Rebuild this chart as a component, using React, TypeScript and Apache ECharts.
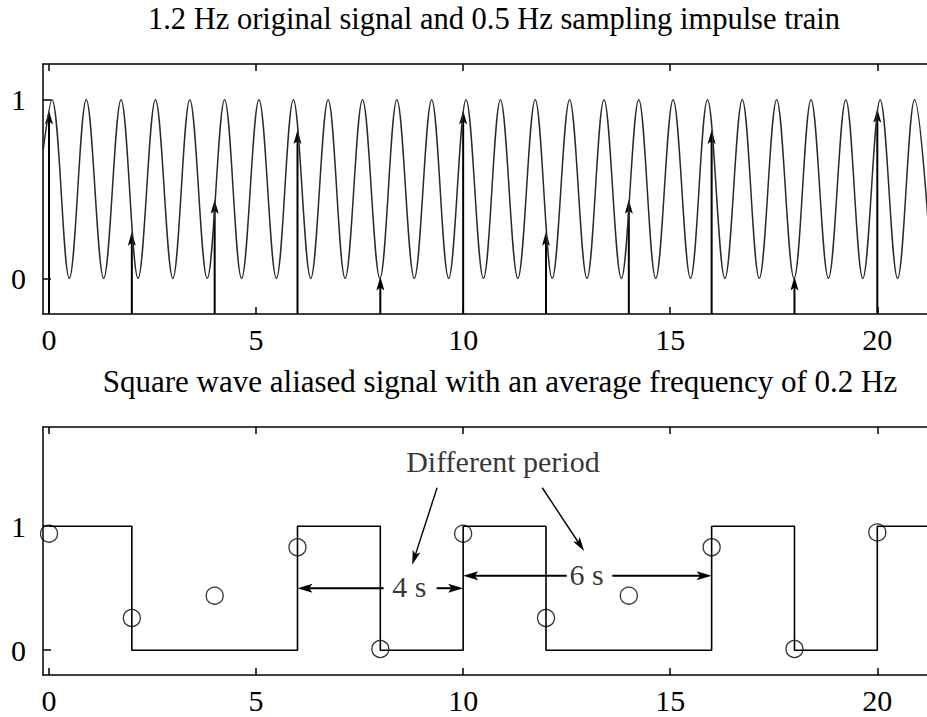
import { useEffect, useRef } from 'react';
import * as echarts from 'echarts';

const FONT = 'Liberation Serif';

// Sampling instants (s) and the sampled signal values
const sampleTimes = [0, 2, 4, 6, 8, 10, 12, 14, 16, 18, 20];
const sampleValues = [0.94, 0.26, 0.44, 0.83, 0.01, 0.94, 0.26, 0.44, 0.83, 0.01, 0.95];

// Held (thresholded) output level after each sample
const heldLevels = [1, 0, 0, 1, 0, 1, 0, 0, 1, 0, 1];
const holdEnd = 21.6;

// 1.2 Hz sinusoid: start point, then successive crests (1) and troughs (0)
const sineTimes = [
  -0.14, 0.07, 0.49, 0.9, 1.32, 1.74, 2.15, 2.57, 2.99, 3.4, 3.82, 4.24, 4.65, 5.07, 5.49, 5.9,
  6.32, 6.74, 7.15, 7.57, 7.99, 8.4, 8.82, 9.24, 9.65, 10.07, 10.49, 10.9, 11.32, 11.74, 12.15,
  12.57, 12.99, 13.4, 13.82, 14.24, 14.65, 15.07, 15.49, 15.9, 16.32, 16.74, 17.15, 17.57, 17.99,
  18.4, 18.82, 19.24, 19.65, 20.07, 20.49, 20.9, 21.32,
];
const sineLevels = [
  0.72, 1, 0, 1, 0, 1, 0, 1, 0, 1, 0, 1, 0, 1, 0, 1, 0, 1, 0, 1, 0, 1, 0, 1, 0, 1, 0, 1, 0, 1, 0,
  1, 0, 1, 0, 1, 0, 1, 0, 1, 0, 1, 0, 1, 0, 1, 0, 1, 0, 1, 0, 1, 0,
];

const xTicks = [0, 5, 10, 15, 20];
const yTicks = [0, 1];

// Annotation arrows in the lower panel: [t0, v0, t1, v1], head at (t1, v1)
const pointerArrows = [
  [9.37, 1.31, 8.77, 0.69],
  [11.91, 1.31, 12.92, 0.8],
];
const spanArrows = [
  [8.08, 0.5, 6, 0.5],
  [9.36, 0.5, 10, 0.5],
  [12.5, 0.6, 10, 0.6],
  [13.6, 0.6, 16, 0.6],
];
const annotationLabels = ['Different period', '4 s', '6 s'];
const annotationTimes = [10.96, 8.7, 12.98];
const annotationValues = [1.52, 0.51, 0.61];

const titles = [
  '1.2 Hz original signal and 0.5 Hz sampling impulse train',
  'Square wave aliased signal with an average frequency of 0.2 Hz',
];

const X_MIN = -0.145;
const X_MAX = 21.2;
const TOP_Y = [-0.2, 1.2];
const BOTTOM_Y = [-0.2, 1.8];

function arrow(
  x1: number, y1: number, x2: number, y2: number,
  len: number, half: number, lineWidth: number,
) {
  const dx = x2 - x1;
  const dy = y2 - y1;
  const d = Math.hypot(dx, dy) || 1;
  const ux = dx / d;
  const uy = dy / d;
  const nx = -uy;
  const ny = ux;
  const bx = x2 - ux * len;
  const by = y2 - uy * len;
  return {
    type: 'group',
    children: [
      {
        type: 'line',
        shape: { x1, y1, x2: x2 - ux * len * 0.6, y2: y2 - uy * len * 0.6 },
        style: { stroke: '#000', lineWidth },
      },
      {
        type: 'polygon',
        shape: {
          points: [
            [x2, y2],
            [bx + nx * half, by + ny * half],
            [x2 - ux * len * 0.78, y2 - uy * len * 0.78],
            [bx - nx * half, by - ny * half],
          ],
        },
        style: { fill: '#000' },
      },
    ],
  };
}

function xAxis(gridIndex: number, position: 'top' | 'bottom') {
  return {
    type: 'value',
    gridIndex,
    position,
    min: X_MIN,
    max: X_MAX,
    axisLine: { show: true, onZero: false, lineStyle: { color: '#000', width: 1.5 } },
    axisTick: {
      show: true, inside: true, length: 7, customValues: xTicks,
      lineStyle: { color: '#000', width: 1.5 },
    },
    axisLabel: {
      show: position === 'bottom', customValues: xTicks, margin: 10,
      color: '#000', fontSize: 30, fontFamily: FONT,
    },
    splitLine: { show: false },
  };
}

function yAxis(gridIndex: number, range: number[]) {
  return {
    type: 'value',
    gridIndex,
    min: range[0],
    max: range[1],
    axisLine: { show: true, onZero: false, lineStyle: { color: '#000', width: 1.5 } },
    axisTick: {
      show: true, inside: true, length: 8, customValues: yTicks,
      lineStyle: { color: '#000', width: 1.5 },
    },
    axisLabel: {
      customValues: yTicks, margin: 17, color: '#000', fontSize: 30, fontFamily: FONT,
    },
    splitLine: { show: false },
  };
}

export default function App() {
  const ref = useRef<HTMLDivElement>(null);

  useEffect(() => {
    if (!ref.current) return;
    const chart = echarts.init(ref.current, null, { renderer: 'svg' });

    const sine = sineTimes.map((t, i) => [t, sineLevels[i]]);
    const samples = sampleTimes.map((t, i) => [t, sampleValues[i]]);
    const held = sampleTimes.map((t, i) => [t, heldLevels[i]]);
    held.push([holdEnd, heldLevels[heldLevels.length - 1]]);

    const option = {
      animation: false,
      backgroundColor: '#fff',
      grid: [
        { left: 43, top: 64, width: 886, height: 250 },
        { left: 43, top: 427, width: 886, height: 248 },
      ],
      xAxis: [xAxis(0, 'bottom'), xAxis(0, 'top'), xAxis(1, 'bottom'), xAxis(1, 'top')],
      yAxis: [yAxis(0, TOP_Y), yAxis(1, BOTTOM_Y)],
      graphic: [
        {
          type: 'text', x: 494, y: 18.5,
          style: {
            text: titles[0], fontSize: 30.5, fontFamily: FONT, fill: '#000',
            align: 'center', verticalAlign: 'middle',
          },
        },
        {
          type: 'text', x: 500, y: 381.5,
          style: {
            text: titles[1], fontSize: 31, fontFamily: FONT, fill: '#000',
            align: 'center', verticalAlign: 'middle',
          },
        },
      ],
      series: [
        {
          name: 'original',
          type: 'line',
          xAxisIndex: 0,
          yAxisIndex: 0,
          data: sine,
          smooth: 0.36,
          showSymbol: false,
          symbol: 'none',
          lineStyle: { color: '#2a2a2a', width: 1.5 },
          silent: true,
        },
        {
          name: 'impulses',
          type: 'custom',
          xAxisIndex: 0,
          yAxisIndex: 0,
          data: samples,
          encode: { x: 0, y: 1 },
          silent: true,
          renderItem: (_params: any, api: any) => {
            const t = api.value(0);
            const v = api.value(1);
            const base = api.coord([t, TOP_Y[0]]);
            const tip = api.coord([t, v]);
            return arrow(base[0], base[1], tip[0], tip[1], 14, 4, 2);
          },
        },
        {
          name: 'aliased',
          type: 'line',
          xAxisIndex: 2,
          yAxisIndex: 1,
          data: held,
          step: 'end',
          showSymbol: false,
          symbol: 'none',
          lineStyle: { color: '#000', width: 1.6 },
          silent: true,
        },
        {
          name: 'samples',
          type: 'scatter',
          xAxisIndex: 2,
          yAxisIndex: 1,
          data: samples,
          symbol: 'circle',
          symbolSize: 17,
          itemStyle: { color: 'rgba(0,0,0,0)', borderColor: '#000', borderWidth: 1.3 },
          silent: true,
          z: 5,
        },
        {
          name: 'pointers',
          type: 'custom',
          xAxisIndex: 2,
          yAxisIndex: 1,
          data: pointerArrows,
          encode: { x: [0, 2], y: [1, 3] },
          silent: true,
          renderItem: (_params: any, api: any) => {
            const a = api.coord([api.value(0), api.value(1)]);
            const b = api.coord([api.value(2), api.value(3)]);
            return arrow(a[0], a[1], b[0], b[1], 14, 4, 1.4);
          },
        },
        {
          name: 'spans',
          type: 'custom',
          xAxisIndex: 2,
          yAxisIndex: 1,
          data: spanArrows,
          encode: { x: [0, 2], y: [1, 3] },
          silent: true,
          renderItem: (_params: any, api: any) => {
            const a = api.coord([api.value(0), api.value(1)]);
            const b = api.coord([api.value(2), api.value(3)]);
            return arrow(a[0], a[1], b[0], b[1], 15, 4.5, 2);
          },
        },
        {
          name: 'notes',
          type: 'scatter',
          xAxisIndex: 2,
          yAxisIndex: 1,
          data: annotationLabels.map((label, i) => ({
            name: label,
            value: [annotationTimes[i], annotationValues[i]],
          })),
          symbolSize: 1,
          itemStyle: { color: 'rgba(0,0,0,0)' },
          label: {
            show: true,
            position: 'inside',
            formatter: '{b}',
            color: '#000',
            fontSize: 30,
            fontFamily: FONT,
          },
          silent: true,
          z: 6,
        },
      ],
    };

    chart.setOption(option as any);
    return () => chart.dispose();
  }, []);

  return (
    <div
      ref={ref}
      style={{ position: 'fixed', left: 0, top: 0, width: 927, height: 717, background: '#fff' }}
    />
  );
}
